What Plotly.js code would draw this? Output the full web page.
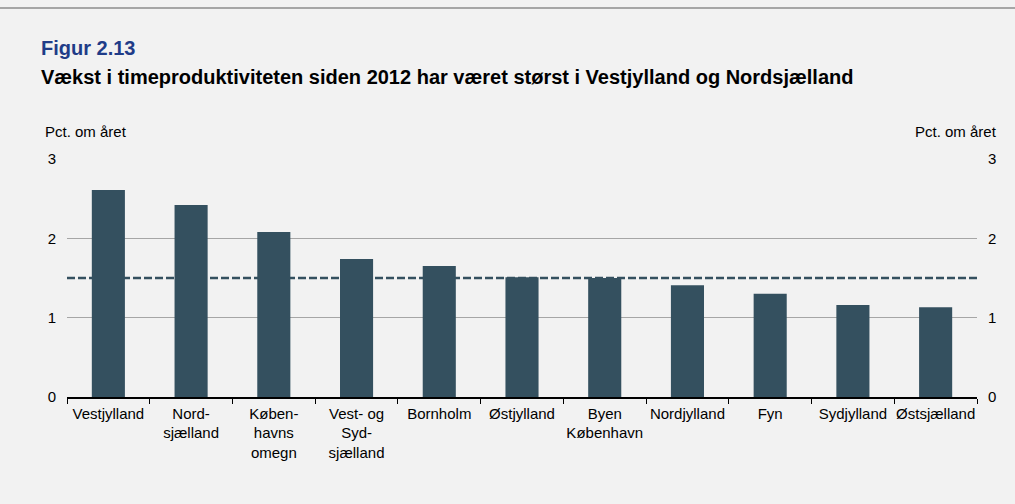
<!DOCTYPE html>
<html><head><meta charset="utf-8">
<script src="https://cdn.plot.ly/plotly-3.0.1.min.js"></script>
<style>html,body{margin:0;padding:0;background:#f2f2f2;}#chart{width:1015px;height:504px;}</style>
</head><body><div id="chart"></div>
<script>
const categories = ["Vestjylland","Nord-<br>sjælland","Køben-<br>havns<br>omegn","Vest- og<br>Syd-<br>sjælland","Bornholm","Østjylland","Byen<br>København","Nordjylland","Fyn","Sydjylland","Østsjælland"];
const growth = [2.61, 2.42, 2.08, 1.74, 1.65, 1.51, 1.50, 1.41, 1.30, 1.16, 1.13];
const average = 1.5;
const yTicks = [0, 1, 2, 3];

const font = "Liberation Sans, Arial, sans-serif";
const traces = [
  {type:"bar", x:categories, y:growth, marker:{color:"#34505f"}, width:0.4, hoverinfo:"x+y"},
  {type:"scatter", x:categories, y:growth, yaxis:"y2", mode:"none", showlegend:false, hoverinfo:"skip"}
];
const axisY = {range:[0,3], tickvals:yTicks, showgrid:true, gridcolor:"#a6a6a6", gridwidth:1, zeroline:false, showline:false, ticks:"", tickfont:{size:15, color:"#000"}, fixedrange:true};
const layout = {
  width:1015, height:504,
  paper_bgcolor:"#f2f2f2", plot_bgcolor:"#f2f2f2",
  font:{family:font, color:"#000", size:15},
  margin:{l:67, r:38, t:159, b:107},
  showlegend:false, bargap:0.6,
  xaxis:{type:"category", tickson:"boundaries", ticks:"outside", ticklen:5, tickcolor:"#000", showline:true, linecolor:"#000", linewidth:1.5, showgrid:false, tickfont:{size:15}, tickangle:0, ticklabelstandoff:2},
  yaxis:Object.assign({}, axisY, {ticklabelstandoff:10}),
  yaxis2:Object.assign({}, axisY, {overlaying:"y", side:"right", showgrid:false, ticklabelstandoff:10}),
  shapes:[
    {type:"line", xref:"paper", x0:0, x1:1, yref:"y", y0:average, y1:average, line:{color:"#34505f", width:2.5, dash:"8px,3px"}},
    {type:"line", xref:"paper", yref:"paper", x0:-0.08, x1:1.05, y0:(496-107)/238, y1:(496-107)/238, line:{color:"#a6a6a6", width:2}}
  ],
  annotations:[
    {text:"<b>Figur 2.13</b>", xref:"paper", yref:"paper", x:(39-67)/910, y:(504-48-107)/238, xanchor:"left", yanchor:"middle", showarrow:false, font:{size:20, color:"#1f3c88", family:font}},
    {text:"<b>Vækst i timeproduktiviteten siden 2012 har været størst i Vestjylland og Nordsjælland</b>", xref:"paper", yref:"paper", x:(39-67)/910, y:(504-77-107)/238, xanchor:"left", yanchor:"middle", showarrow:false, font:{size:20, color:"#000", family:font}},
    {text:"Pct. om året", xref:"paper", yref:"paper", x:(43-67)/910, y:(504-131-107)/238, xanchor:"left", yanchor:"middle", showarrow:false, font:{size:15}},
    {text:"Pct. om året", xref:"paper", yref:"paper", x:(999-67)/910, y:(504-131-107)/238, xanchor:"right", yanchor:"middle", showarrow:false, font:{size:15}}
  ]
};
Plotly.newPlot("chart", traces, layout, {displayModeBar:false, staticPlot:true});
</script></body></html>
